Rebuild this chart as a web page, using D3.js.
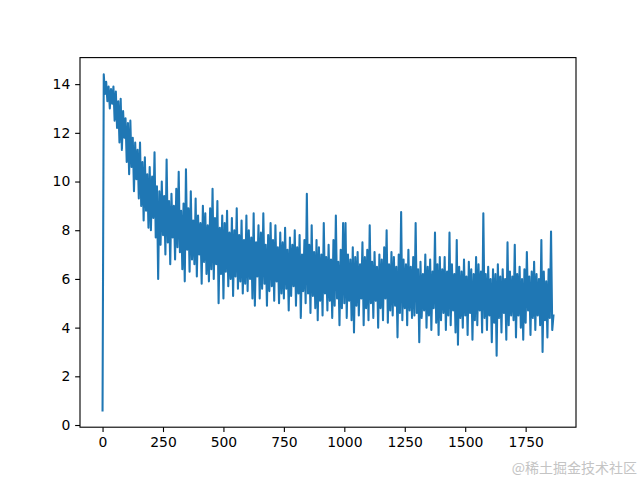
<!DOCTYPE html>
<html><head><meta charset="utf-8">
<script src="https://cdn.jsdelivr.net/npm/d3@7"></script>
<style>body{margin:0;background:#fff}svg{display:block}</style>
</head><body>
<script>
// Loss values, one every `stepSize` iterations
const stepSize = 5;
const lossValues = [
 0.6,14.4,13.6,14.1,13.3,13.9,13.0,13.8,13.2,13.9,
 12.5,13.7,12.2,13.3,11.6,13.4,11.3,12.9,11.8,12.6,
 10.8,12.4,10.3,12.5,10.6,11.8,9.6,11.6,10.1,11.3,
 9.3,11.6,9.0,10.8,8.4,11.0,8.8,10.3,8.1,10.6,
 8.0,10.2,8.5,11.2,7.7,9.8,6.0,9.6,7.4,10.0,
 7.8,9.4,7.0,10.9,7.5,9.2,6.6,9.5,7.7,9.0,
 6.8,9.7,7.3,10.4,7.1,8.8,6.4,9.1,5.9,10.5,
 7.2,8.9,6.3,9.6,6.8,8.4,6.6,9.3,6.1,8.6,
 7.0,8.3,5.8,9.0,6.7,8.7,6.2,8.2,5.9,8.9,
 6.4,9.7,6.0,8.5,6.6,9.2,5.0,8.1,6.2,8.6,
 5.2,8.3,6.3,8.8,5.7,7.9,6.0,8.5,5.3,8.0,
 6.1,8.9,5.6,7.8,5.9,8.4,5.4,7.6,5.8,8.6,
 5.5,8.0,6.0,7.7,5.2,8.7,4.9,7.5,6.1,8.2,
 5.2,7.9,5.6,8.7,5.8,7.4,4.9,7.8,5.5,8.3,
 5.7,7.6,5.1,8.2,5.9,7.3,5.0,7.9,5.4,7.5,
 5.2,8.1,5.6,7.2,4.7,7.7,5.3,7.4,5.7,8.0,
 4.9,7.3,5.4,7.8,4.4,7.0,5.5,7.6,5.0,9.5,
 5.4,7.4,4.6,8.2,5.3,7.1,4.8,7.6,4.3,7.3,
 5.1,7.0,4.5,8.3,5.4,6.9,4.7,7.4,5.1,6.8,
 4.4,7.6,4.9,8.6,5.2,6.7,4.1,7.2,4.8,8.3,
 5.0,8.3,4.4,7.0,5.1,6.8,4.3,7.3,3.8,6.9,
 4.9,7.1,4.5,6.6,5.2,7.5,4.1,6.9,4.8,7.2,
 4.3,8.2,5.0,6.7,4.4,7.1,5.1,6.5,4.0,7.0,
 4.8,6.8,4.3,7.3,5.2,8.0,4.2,6.6,4.7,7.1,
 4.5,6.9,4.9,6.5,3.6,7.0,4.6,8.75,4.3,6.8,
 4.8,6.6,4.1,7.2,4.7,6.5,4.4,6.9,4.5,8.3,
 4.6,6.4,3.4,6.7,4.4,6.2,4.7,7.0,4.0,6.5,
 4.5,6.8,3.9,6.3,4.8,7.9,4.2,6.6,3.7,6.9,
 4.3,6.4,4.6,6.9,3.9,6.3,4.5,7.9,4.1,6.6,
 4.7,6.2,3.8,7.6,3.3,6.5,4.4,6.3,4.0,6.8,
 4.5,6.1,3.7,6.7,4.6,6.4,3.5,6.2,4.3,6.9,
 4.1,6.6,4.7,6.3,3.8,8.7,4.4,6.2,3.9,6.5,
 4.5,6.0,3.4,6.4,4.2,6.2,2.85,6.6,4.4,6.1,
 3.8,6.4,4.6,6.0,3.5,7.5,4.1,6.3,4.5,6.1,
 4.3,7.4,3.6,6.2,4.5,6.5,4.0,6.0,3.5,6.4,
 4.2,7.1,4.7,6.1,3.7,6.3,4.4,6.7,3.9,6.2,
 4.5,6.0,4.1,7.6,3.0,6.3,4.3,5.9,3.6,6.4,
 4.4,7.95,3.9,4.5
];
const xTicks = [0,250,500,750,1000,1250,1500,1750];
const yTicks = [0,2,4,6,8,10,12,14];
const watermark = "@稀土掘金技术社区";

const W = 640, H = 480;
const m = {left: 80, right: 576, top: 57.6, bottom: 427.2};
const data = lossValues.map((v, i) => ({it: i * stepSize, v}));
const xMin = 0, xMax = d3.max(data, d => d.it);
const yMin = d3.min(data, d => d.v), yMax = d3.max(data, d => d.v);
const xPad = (xMax - xMin) * 0.05, yPad = (yMax - yMin) * 0.05;
const x = d3.scaleLinear().domain([xMin - xPad, xMax + xPad]).range([m.left, m.right]);
const y = d3.scaleLinear().domain([yMin - yPad, yMax + yPad]).range([m.bottom, m.top]);

const svg = d3.select("body").append("svg").attr("width", W).attr("height", H)
  .style("font-family", "'DejaVu Sans', sans-serif");

svg.append("path").datum(data)
  .attr("fill", "none").attr("stroke", "#1f77b4").attr("stroke-width", 2.08)
  .attr("stroke-linejoin", "round").attr("stroke-linecap", "square")
  .attr("d", d3.line().x(d => x(d.it)).y(d => y(d.v)));

const fs = "13.9px";
const xa = svg.append("g").attr("transform", `translate(0,${m.bottom})`)
  .call(d3.axisBottom(x).tickValues(xTicks).tickFormat(d3.format("d")).tickSizeOuter(0).tickSize(4.86).tickPadding(4.86));
const ya = svg.append("g").attr("transform", `translate(${m.left},0)`)
  .call(d3.axisLeft(y).tickValues(yTicks).tickFormat(d3.format("d")).tickSizeOuter(0).tickSize(4.86).tickPadding(4.86));
[xa, ya].forEach(a => {
  a.select(".domain").remove();
  a.selectAll("line").attr("stroke", "#000").attr("stroke-width", 1.11);
  a.selectAll("text").attr("fill", "#000").style("font-size", fs).style("font-family", "'DejaVu Sans', sans-serif");
});

svg.append("rect").attr("x", m.left).attr("y", m.top)
  .attr("width", m.right - m.left).attr("height", m.bottom - m.top)
  .attr("fill", "none").attr("stroke", "#000").attr("stroke-width", 1.11);

svg.append("text").attr("x", 637).attr("y", 473).attr("text-anchor", "end")
  .attr("fill", "#c4c4c4").style("font-size", "14px")
  .style("font-family", "'Noto Sans CJK SC', sans-serif").text(watermark);
</script>
</body></html>
